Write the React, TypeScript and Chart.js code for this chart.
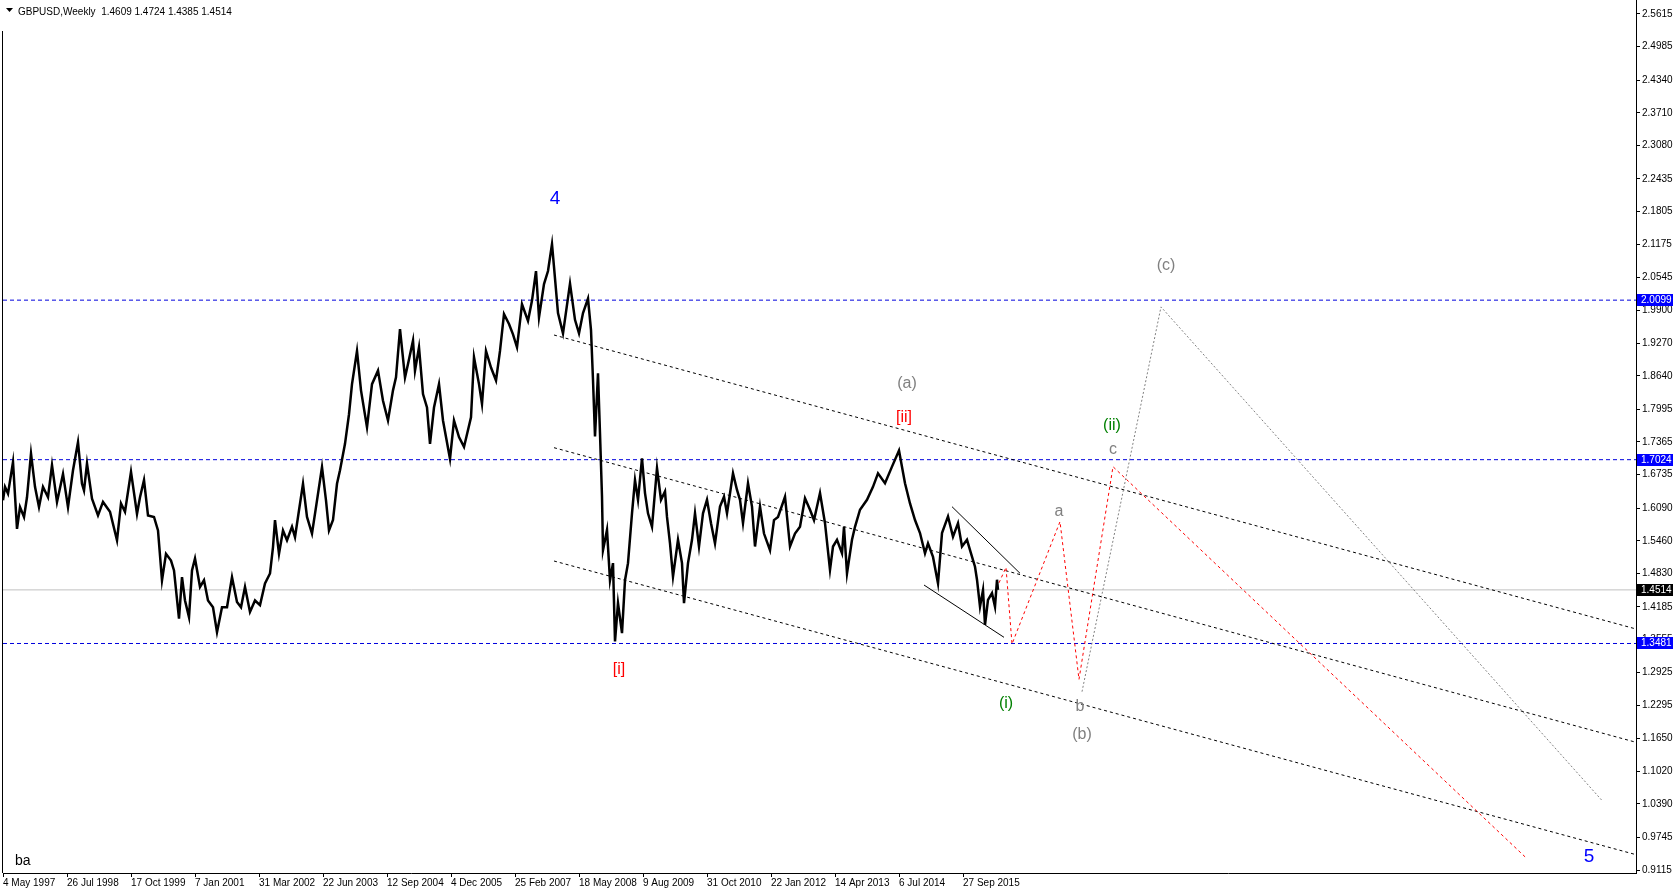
import React, { useEffect, useRef } from "react";
import { Chart, registerables } from "chart.js";

Chart.register(...registerables);

// ---- header ----
const symbolTitle = "GBPUSD,Weekly";
const lastOhlc = [1.4609, 1.4724, 1.4385, 1.4514];
const indicatorTag = "ba";

// ---- axes (x in weeks since 4 May 1997) ----
const xTickWeeks = [0, 64, 128, 192, 256, 320, 384, 448, 512, 576, 640, 704, 768, 832, 896, 960];
const xTickLabels = [
  "4 May 1997", "26 Jul 1998", "17 Oct 1999", "7 Jan 2001", "31 Mar 2002", "22 Jun 2003",
  "12 Sep 2004", "4 Dec 2005", "25 Feb 2007", "18 May 2008", "9 Aug 2009", "31 Oct 2010",
  "22 Jan 2012", "14 Apr 2013", "6 Jul 2014", "27 Sep 2015",
];
const yTickValues = [
  2.5615, 2.4985, 2.434, 2.371, 2.308, 2.2435, 2.1805, 2.1175, 2.0545, 1.99, 1.927, 1.864,
  1.7995, 1.7365, 1.6735, 1.609, 1.546, 1.483, 1.4185, 1.3555, 1.2925, 1.2295, 1.165, 1.102,
  1.039, 0.9745, 0.9115,
];

// ---- price (weekly GBPUSD) ----
const priceWeeks = [
  0, 2, 5, 10, 14, 17, 21, 24, 28, 32, 36, 40, 45, 49, 54, 60, 65, 70, 75, 79, 81, 84, 89, 95,
  100, 107, 114, 118, 122, 128, 134, 137, 141, 145, 151, 155, 159, 163, 168, 171, 176, 179, 182,
  186, 189, 192, 197, 201, 205, 210, 214, 219, 224, 229, 234, 238, 242, 247, 252, 257, 262, 267,
  270, 272, 276, 280, 284, 289, 292, 296, 300, 304, 309, 313, 319, 323, 326, 330, 334, 337, 342,
  346, 349, 354, 358, 364, 369, 375, 380, 385, 390, 393, 397, 402, 405, 410, 412, 416, 420, 424,
  427, 431, 436, 440, 443, 447, 451, 456, 461, 468, 471, 476, 479, 483, 488, 493, 497, 501, 506,
  510, 514, 519, 525, 529, 533, 536, 541, 545, 549, 551, 555, 560, 567, 572, 576, 580, 585, 588,
  590, 592, 595, 597, 599, 600, 604, 607, 610, 612, 615, 619, 622, 625, 629, 632, 635, 639, 642,
  645, 649, 654, 658, 662, 664, 667, 670, 675, 679, 681, 685, 689, 692, 696, 700, 704, 708, 712,
  717, 721, 724, 730, 734, 737, 740, 745, 749, 752, 757, 761, 767, 771, 775, 782, 787, 792, 797,
  802, 807, 811, 817, 822, 827, 830, 834, 839, 841, 844, 849, 852, 857, 864, 870, 875, 882, 889,
  896, 902, 907, 912, 917, 922, 925, 930, 935, 939, 945, 950, 955, 959, 964, 968, 972, 974, 977,
  980, 982, 985, 989, 992, 994, 995,
];
const priceValues = [
  1.624, 1.65, 1.637, 1.698, 1.569, 1.611, 1.592, 1.63, 1.714, 1.65, 1.611, 1.65, 1.63, 1.692,
  1.621, 1.675, 1.611, 1.682, 1.736, 1.656, 1.643, 1.695, 1.627, 1.595, 1.621, 1.602, 1.547,
  1.618, 1.602, 1.679, 1.598, 1.63, 1.663, 1.595, 1.592, 1.566, 1.47, 1.521, 1.508, 1.489, 1.396,
  1.476, 1.431, 1.399, 1.489, 1.512, 1.457, 1.47, 1.431, 1.418, 1.37, 1.418, 1.418, 1.476, 1.428,
  1.418, 1.457, 1.409, 1.431, 1.422, 1.464, 1.483, 1.534, 1.586, 1.521, 1.566, 1.547, 1.573,
  1.553, 1.605, 1.656, 1.592, 1.56, 1.611, 1.688, 1.624, 1.566, 1.586, 1.656, 1.682, 1.733, 1.79,
  1.848, 1.912, 1.836, 1.765, 1.848, 1.874, 1.816, 1.778, 1.836, 1.861, 1.954, 1.861, 1.887,
  1.932, 1.874, 1.919, 1.829, 1.803, 1.733, 1.803, 1.848, 1.778, 1.746, 1.704, 1.778, 1.746,
  1.727, 1.784, 1.9, 1.848, 1.81, 1.912, 1.88, 1.855, 1.912, 1.983, 1.964, 1.944, 1.919, 2.002,
  1.97, 2.009, 2.066, 1.977, 2.041, 2.066, 2.118, 2.074, 1.985, 1.946, 2.042, 1.972, 1.946, 1.985,
  2.013, 1.952, 1.856, 1.747, 1.869, 1.753, 1.631, 1.528, 1.567, 1.47, 1.503, 1.352, 1.426, 1.368,
  1.47, 1.503, 1.599, 1.663, 1.625, 1.705, 1.638, 1.599, 1.573, 1.686, 1.625, 1.641, 1.592, 1.541,
  1.477, 1.548, 1.503, 1.426, 1.503, 1.548, 1.599, 1.535, 1.599, 1.625, 1.58, 1.541, 1.612, 1.631,
  1.599, 1.676, 1.644, 1.625, 1.58, 1.657, 1.612, 1.535, 1.612, 1.56, 1.528, 1.586, 1.592, 1.631,
  1.535, 1.56, 1.573, 1.628, 1.606, 1.586, 1.638, 1.58, 1.49, 1.535, 1.548, 1.522, 1.573, 1.483,
  1.548, 1.573, 1.606, 1.625, 1.65, 1.676, 1.657, 1.689, 1.72, 1.657, 1.618, 1.586, 1.561, 1.522,
  1.541, 1.515, 1.464, 1.561, 1.593, 1.554, 1.58, 1.535, 1.548, 1.522, 1.496, 1.471, 1.419, 1.451,
  1.384, 1.432, 1.445, 1.419, 1.471, 1.4514,
];

// ---- horizontal levels ----
const levelValues = [2.0099, 1.7024, 1.3481];
const currentPrice = 1.4514;

// ---- trend lines ----
const channelWeeks = [551, 1632];
const channelUpper = [1.9427, 1.3766];
const channelMiddle = [1.7255, 1.1582];
const channelLower = [1.5071, 0.9416];
const wedgeUpperWeeks = [949, 1017];
const wedgeUpper = [1.6118, 1.4834];
const wedgeLowerWeeks = [921, 1001];
const wedgeLower = [1.4608, 1.36];
const redPathWeeks = [996, 1003, 1009, 1057, 1076, 1110, 1523];
const redPath = [1.465, 1.4949, 1.3471, 1.5829, 1.279, 1.6889, 0.9352];
const grayPathWeeks = [1079, 1158, 1599];
const grayPath = [1.2552, 1.9969, 1.0455];

// ---- wave labels ----
const waveLabels = ["4", "5", "(a)", "[ii]", "[i]", "(ii)", "c", "a", "(i)", "b", "(b)", "(c)"];
const waveLabelWeeks = [552, 1586, 904, 901, 616, 1109, 1110, 1056, 1003, 1077, 1079, 1163];
const waveLabelPrices = [2.2062, 0.9366, 1.8496, 1.784, 1.2984, 1.7673, 1.7224, 1.6021, 1.2328, 1.2263, 1.1717, 2.0773];
const waveLabelKinds = ["blue", "blue", "gray", "red", "red", "green", "gray", "gray", "green", "gray", "gray", "gray"];

const KIND_COLOR: Record<string, string> = {
  blue: "#0000ff",
  gray: "#808080",
  red: "#ff0000",
  green: "#008000",
};
const FONT = '"Liberation Sans", Arial, sans-serif';
const X_MAX = 1633;
const Y_MIN = 0.90572;
const Y_MAX = 2.58844;

const toXY = (ws: number[], ps: number[]) => ws.map((w, i) => ({ x: w, y: ps[i] }));

const lineDs = (data: any[], color: string, dash: number[], width: number, order: number) => ({
  data,
  borderColor: color,
  backgroundColor: color,
  borderWidth: width,
  borderDash: dash,
  pointRadius: 0,
  pointHoverRadius: 0,
  fill: false,
  tension: 0,
  order,
});

const overlay = {
  id: "overlay",
  afterDatasetsDraw(chart: any) {
    const { ctx, scales } = chart;
    const x = scales.x;
    const y = scales.y;
    ctx.save();
    ctx.textAlign = "center";
    ctx.textBaseline = "middle";
    waveLabels.forEach((t, i) => {
      const big = t === "4" || t === "5";
      ctx.font = `${big ? 19 : 16}px ${FONT}`;
      ctx.fillStyle = KIND_COLOR[waveLabelKinds[i]];
      ctx.fillText(t, x.getPixelForValue(waveLabelWeeks[i]), y.getPixelForValue(waveLabelPrices[i]));
    });
    ctx.restore();
  },
  afterDraw(chart: any) {
    const { ctx, chartArea, scales } = chart;
    const y = scales.y;
    ctx.save();
    // left frame
    ctx.strokeStyle = "#000";
    ctx.lineWidth = 1;
    ctx.beginPath();
    ctx.moveTo(chartArea.left - 0.5, 31);
    ctx.lineTo(chartArea.left - 0.5, chartArea.bottom);
    ctx.stroke();
    // header
    ctx.fillStyle = "#000";
    ctx.beginPath();
    ctx.moveTo(6, 8);
    ctx.lineTo(13, 8);
    ctx.lineTo(9.5, 12);
    ctx.closePath();
    ctx.fill();
    ctx.font = `10px ${FONT}`;
    ctx.textAlign = "left";
    ctx.textBaseline = "alphabetic";
    ctx.fillText(`${symbolTitle}  ${lastOhlc.map((v) => v.toFixed(4)).join(" ")}`, 18, 14.5);
    // indicator tag
    ctx.font = `14px ${FONT}`;
    ctx.fillText(indicatorTag, 15, 865);
    // price boxes on the axis
    const boxes: [number, string][] = [
      ...levelValues.map((v) => [v, "#0000ff"] as [number, string]),
      [currentPrice, "#000000"],
    ];
    ctx.font = `10px ${FONT}`;
    ctx.textBaseline = "middle";
    boxes.forEach(([v, c]) => {
      const py = Math.round(y.getPixelForValue(v));
      ctx.fillStyle = c;
      ctx.fillRect(chartArea.right + 1, py - 6, 36, 12);
      ctx.fillStyle = "#ffffff";
      ctx.fillText(v.toFixed(4), chartArea.right + 5, py + 0.5);
    });
    ctx.restore();
  },
};

export default function App() {
  const ref = useRef<HTMLCanvasElement>(null);
  useEffect(() => {
    document.body.style.margin = "0";
    const canvas = ref.current!;
    Chart.defaults.font.family = FONT;

    const datasets: any[] = [
      lineDs(toXY(priceWeeks, priceValues), "#000000", [], 2.5, 0),
      ...levelValues.map((v) => lineDs([{ x: 0, y: v }, { x: X_MAX, y: v }], "#0000dd", [4, 3], 1, 6)),
      lineDs([{ x: 0, y: currentPrice }, { x: X_MAX, y: currentPrice }], "#c0c0c0", [], 1, 7),
      lineDs(toXY(channelWeeks, channelUpper), "#000000", [3, 3], 1, 3),
      lineDs(toXY(channelWeeks, channelMiddle), "#000000", [3, 3], 1, 3),
      lineDs(toXY(channelWeeks, channelLower), "#000000", [3, 3], 1, 3),
      lineDs(toXY(wedgeUpperWeeks, wedgeUpper), "#000000", [], 1, 3),
      lineDs(toXY(wedgeLowerWeeks, wedgeLower), "#000000", [], 1, 3),
      lineDs(toXY(redPathWeeks, redPath), "#ff0000", [3, 3], 1, 2),
      lineDs(toXY(grayPathWeeks, grayPath), "#808080", [2, 2], 1, 2),
    ];

    const chart = new Chart(canvas, {
      type: "line",
      data: { datasets },
      options: {
        animation: false,
        responsive: false,
        maintainAspectRatio: false,
        events: [],
        layout: { padding: { left: 3, right: 0, top: 0, bottom: 0 } },
        plugins: { legend: { display: false }, tooltip: { enabled: false } },
        scales: {
          x: {
            type: "linear",
            position: "bottom",
            min: 0,
            max: X_MAX,
            grid: { drawOnChartArea: false, drawTicks: true, tickLength: 4, color: "#000" },
            border: { display: true, color: "#000", width: 1 },
            ticks: {
              autoSkip: false,
              maxRotation: 0,
              minRotation: 0,
              align: "start",
              padding: 0,
              color: "#000",
              font: { size: 10, family: FONT },
              callback: (v: any) => {
                const i = xTickWeeks.indexOf(Number(v));
                return i >= 0 ? xTickLabels[i] : "";
              },
            },
            afterBuildTicks: (s: any) => {
              s.ticks = xTickWeeks.map((v) => ({ value: v }));
            },
            afterFit: (s: any) => {
              s.height = 21;
              s.paddingLeft = 0;
              s.paddingRight = 0;
            },
          },
          y: {
            type: "linear",
            position: "right",
            min: Y_MIN,
            max: Y_MAX,
            grid: { drawOnChartArea: false, drawTicks: true, tickLength: 4, color: "#000" },
            border: { display: true, color: "#000", width: 1 },
            ticks: {
              autoSkip: false,
              padding: 2,
              crossAlign: "near",
              color: "#000",
              font: { size: 10, family: FONT },
              callback: (v: any) => Number(v).toFixed(4),
            },
            afterBuildTicks: (s: any) => {
              s.ticks = yTickValues.map((v) => ({ value: v }));
            },
            afterFit: (s: any) => {
              s.width = 40;
              s.paddingTop = 0;
              s.paddingBottom = 0;
            },
          },
        },
      } as any,
      plugins: [overlay],
    });
    return () => chart.destroy();
  }, []);

  return <canvas ref={ref} width={1676} height={894} style={{ display: "block" }} />;
}
